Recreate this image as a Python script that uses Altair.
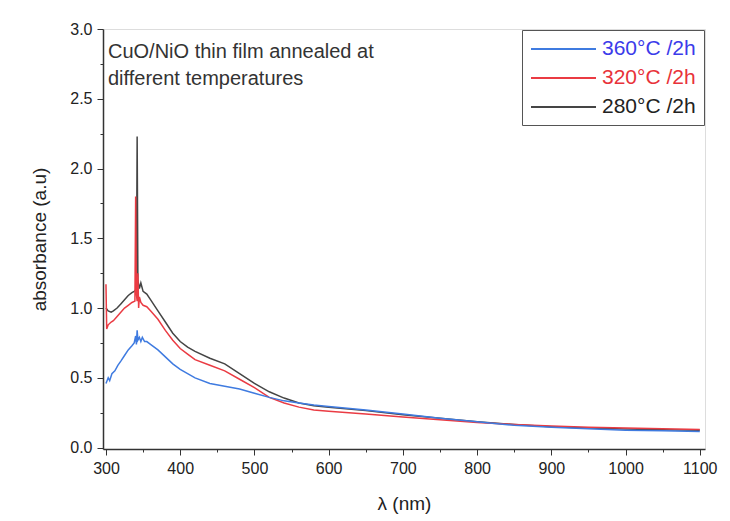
import altair as alt
import pandas as pd

# ---- data ----
series_names = ["280°C /2h", "320°C /2h", "360°C /2h"]

wl_280 = [300, 303, 307, 310, 315, 320, 325, 330, 335, 338, 340, 341, 342, 343, 344, 345, 347, 350,
          355, 360, 370, 380, 390, 400, 410, 420, 440, 460, 480, 500, 520, 540, 560, 580, 600,
          650, 700, 750, 800, 850, 900, 950, 1000, 1050, 1100]
abs_280 = [1.00, 0.98, 0.97, 0.98, 1.00, 1.03, 1.06, 1.09, 1.11, 1.12, 1.13, 1.16, 2.23, 1.20, 1.17,
           1.14, 1.18, 1.12, 1.10, 1.06, 0.98, 0.90, 0.82, 0.76, 0.72, 0.69, 0.64, 0.60, 0.53, 0.46,
           0.40, 0.355, 0.32, 0.30, 0.29, 0.265, 0.235, 0.21, 0.185, 0.165, 0.15, 0.14, 0.133, 0.128,
           0.125]

wl_320 = [300, 301, 303, 307, 310, 315, 320, 325, 330, 335, 339, 340, 341, 342, 343, 344, 345, 347,
          350, 355, 360, 370, 380, 390, 400, 410, 420, 440, 460, 480, 500, 520, 540, 560, 580, 600,
          650, 700, 750, 800, 850, 900, 950, 1000, 1050, 1100]
abs_320 = [1.17, 0.85, 0.88, 0.90, 0.91, 0.94, 0.97, 1.00, 1.02, 1.04, 1.05, 1.80, 1.10, 1.05, 1.25,
           1.00, 1.08, 1.04, 1.02, 1.01, 0.98, 0.92, 0.84, 0.77, 0.71, 0.67, 0.63, 0.59, 0.55, 0.49,
           0.43, 0.36, 0.32, 0.29, 0.27, 0.26, 0.24, 0.22, 0.20, 0.18, 0.165, 0.155, 0.145, 0.14,
           0.135, 0.13]

wl_360 = [300, 303, 305, 308, 312, 316, 320, 325, 330, 335, 338, 340, 341, 342, 343, 345, 347, 349,
          352, 355, 360, 370, 380, 390, 400, 410, 420, 440, 460, 480, 500, 520, 540, 560, 580, 600,
          650, 700, 750, 800, 850, 900, 950, 1000, 1050, 1100]
abs_360 = [0.46, 0.50, 0.48, 0.53, 0.55, 0.59, 0.62, 0.66, 0.70, 0.73, 0.75, 0.80, 0.74, 0.84, 0.77,
           0.79, 0.76, 0.79, 0.76, 0.76, 0.74, 0.70, 0.65, 0.60, 0.56, 0.53, 0.50, 0.46, 0.44, 0.42,
           0.39, 0.36, 0.335, 0.32, 0.305, 0.295, 0.27, 0.24, 0.21, 0.185, 0.16, 0.145, 0.135, 0.125,
           0.12, 0.115]

legend_order = ["360°C /2h", "320°C /2h", "280°C /2h"]
line_colors = ["#3f7be0", "#ea3b43", "#454545"]

x_major = [300, 400, 500, 600, 700, 800, 900, 1000, 1100]
x_minor = [350, 450, 550, 650, 750, 850, 950, 1050]
y_major = [0.0, 0.5, 1.0, 1.5, 2.0, 2.5, 3.0]
y_minor = [0.25, 0.75, 1.25, 1.75, 2.25, 2.75]

annotation = "CuO/NiO thin film annealed at\ndifferent temperatures"

rows = []
for name, wls, vals in zip(series_names, [wl_280, wl_320, wl_360], [abs_280, abs_320, abs_360]):
    for w, v in zip(wls, vals):
        rows.append({"wl": w, "abs": v, "series": name})
df = pd.DataFrame(rows)
note_df = pd.DataFrame({"t": [annotation]})

FONT = "Liberation Sans"
xscale = alt.Scale(domain=[296, 1107], nice=False, zero=False)
yscale = alt.Scale(domain=[-0.01, 3.0], nice=False, zero=False)

label_color_expr = ("datum.label == '360°C /2h' ? '#3b3bea' : "
                    "(datum.label == '320°C /2h' ? '#e8323a' : '#222222')")

lines = alt.Chart(df).mark_line(strokeWidth=1.5).encode(
    x=alt.X("wl:Q", scale=xscale,
            axis=alt.Axis(values=x_major, title="λ (nm)", format="d", grid=False,
                          tickSize=6, tickColor="#333", domainColor="#333", domainWidth=1.5,
                          labelFont=FONT, labelFontSize=16, labelColor="#222", labelPadding=5,
                          titleFont=FONT, titleFontSize=19, titleFontWeight="normal",
                          titleColor="#222", titlePadding=18)),
    y=alt.Y("abs:Q", scale=yscale,
            axis=alt.Axis(values=y_major, title="absorbance (a.u)", format=".1f", grid=False,
                          tickSize=6, tickColor="#333", domainColor="#333", domainWidth=1.5,
                          labelFont=FONT, labelFontSize=16, labelColor="#222", labelPadding=5,
                          titleFont=FONT, titleFontSize=19, titleFontWeight="normal",
                          titleColor="#222", titlePadding=20)),
    color=alt.Color("series:N",
                    scale=alt.Scale(domain=legend_order, range=line_colors),
                    legend=alt.Legend(title=None, orient="top-right", offset=1,
                                      symbolType="M-1,0L5.5,0", symbolSize=400, symbolStrokeWidth=2,
                                      labelFont=FONT, labelFontSize=21,
                                      labelColor={"expr": label_color_expr},
                                      labelOffset=50, rowPadding=8,
                                      strokeColor="#555", fillColor="white", padding=8,
                                      cornerRadius=0)),
    order=alt.Order("wl:Q"),
)

minor = alt.Chart(df).mark_line(opacity=0).encode(
    x=alt.X("wl:Q", scale=xscale,
            axis=alt.Axis(values=x_minor, labels=False, title=None, domain=False, grid=False,
                          tickSize=3, tickColor="#333", orient="bottom")),
    y=alt.Y("abs:Q", scale=yscale,
            axis=alt.Axis(values=y_minor, labels=False, title=None, domain=False, grid=False,
                          tickSize=3, tickColor="#333", orient="left")),
    detail="series:N",
)

note = alt.Chart(note_df).mark_text(align="left", baseline="top", font=FONT, fontSize=20,
                                    color="#333", lineBreak="\n", lineHeight=27).encode(
    x=alt.value(5), y=alt.value(13), text="t:N"
)

chart = alt.layer(lines, minor, note).resolve_axis(x="independent", y="independent").properties(
    width=602, height=420,
    autosize=alt.AutoSizeParams(type="none"),
    padding={"left": 95, "top": 21, "right": 17, "bottom": 70},
).configure_view(stroke="#333", strokeWidth=1.5).configure(background="white")

chart.save("out.html", embed_options={"renderer": "svg", "actions": False})
